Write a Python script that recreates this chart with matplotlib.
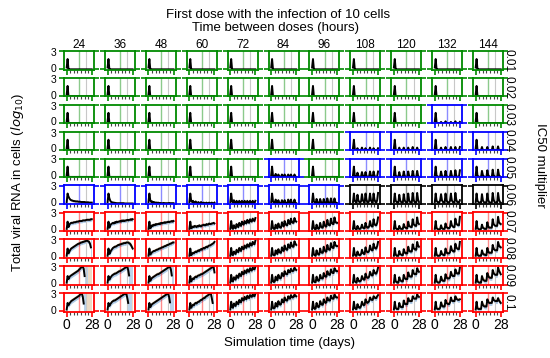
"""Viral RNA per IC50 multiplier and dosing interval (first dose with infection)"""

import numpy as np
import matplotlib.pyplot as plt

plt.rcParams['font.family'] = ['Liberation Sans', 'DejaVu Sans']

# Grid categories
intervals = [24, 36, 48, 60, 72, 84, 96, 108, 120, 132, 144]      # hours between doses
ic50 = ['0.01', '0.02', '0.03', '0.04', '0.05', '0.06', '0.07', '0.08', '0.09', '0.1']
days = np.arange(29)                                               # simulation day 0..28

# Outcome class of every cell (g = cleared, b = suppressed, k = oscillating, r = growing)
status = ['ggggggggggg',
          'ggggggggggg',
          'gggggggggbg',
          'gggggggbbbb',
          'gggggbgbbbb',
          'bbbbbbbkkkk',
          'rrrrrrrrrrr',
          'rrrrrrrrrrr',
          'rrrrrrrrrrr',
          'rrrrrrrrrrr']

# Median total viral RNA (log10), one value per day; None = all cells dead
spike = [0.3, 1.7] + [0] * 27

rna_001 = [spike] * 11
rna_002 = [spike] * 11
rna_003 = [spike] * 9 + [
    [0.3, 1.7, 0.1, 0, 0, 0, 0, 0.2, 0, 0, 0, 0, 0.3, 0, 0, 0, 0, 0, 0.2, 0, 0, 0, 0, 0.3, 0, 0, 0, 0, 0.2],
    spike]
rna_004 = [spike] * 7 + [
    [0.3, 1.7, 0.1, 0, 0, 0.3, 0, 0, 0, 0, 0.4, 0, 0, 0, 0.3, 0, 0, 0, 0, 0.4, 0, 0, 0, 0.3, 0, 0, 0, 0, 0.3],
    [0.3, 1.7, 0.1, 0, 0, 0, 0.4, 0, 0, 0, 0, 0.4, 0, 0, 0, 0, 0.4, 0, 0, 0, 0, 0.5, 0, 0, 0, 0, 0.4, 0, 0],
    [0.3, 1.7, 0.1, 0, 0, 0, 0, 0.4, 0, 0, 0, 0, 0.5, 0, 0, 0, 0, 0, 0.5, 0, 0, 0, 0, 0.5, 0, 0, 0, 0, 0.5],
    [0.3, 1.7, 0.1, 0, 0, 0, 0, 0.5, 0, 0, 0, 0, 0, 0.5, 0, 0, 0, 0, 0, 0.6, 0, 0, 0, 0, 0, 0.6, 0, 0, 0]]
rna_005 = [spike] * 5 + [
    [0.3, 1.7, 0.2, 0.1, 0.1, 0.5, 0.1, 0, 0.4, 0.1, 0, 0, 0.4, 0.1, 0, 0.4, 0.1, 0, 0, 0.4, 0.1, 0, 0.4, 0.1, 0, 0, 0.4, 0.1, 0],
    spike,
    [0.3, 1.7, 0.2, 0.1, 0, 0.7, 0.2, 0, 0, 0.1, 0.8, 0.2, 0, 0, 0.8, 0.2, 0, 0, 0.1, 0.9, 0.2, 0, 0, 0.9, 0.2, 0, 0, 0.1, 0.9],
    [0.3, 1.7, 0.2, 0.1, 0, 0, 0.8, 0.2, 0, 0, 0, 0.9, 0.2, 0, 0, 0, 0.9, 0.2, 0, 0, 0, 1.0, 0.2, 0, 0, 0, 1.0, 0.2, 0],
    [0.3, 1.7, 0.2, 0.1, 0, 0, 0.1, 0.9, 0.2, 0, 0, 0, 1.0, 0.2, 0, 0, 0, 0.1, 1.0, 0.2, 0, 0, 0, 1.1, 0.2, 0, 0, 0, 1.1],
    [0.3, 1.7, 0.2, 0.1, 0, 0, 0, 1.0, 0.3, 0.1, 0, 0, 0, 1.1, 0.3, 0.1, 0, 0, 0, 1.2, 0.3, 0.1, 0, 0, 0, 1.2, 0.3, 0.1, 0]]
rna_006 = [
    [0.3, 1.7, 1.2, 0.9, 0.7, 0.6, 0.55, 0.5, 0.45, 0.45, 0.4, 0.4, 0.4, 0.35, 0.35, 0.35, 0.3, 0.3, 0.3, 0.3, 0.3, 0.25, 0.25, 0.25, 0.25, 0.2, 0.2, 0.2, 0.2],
    [0.3, 1.7, 0.9, 0.5, 0.3, 0.25, 0.2, 0.2, 0.15, 0.15, 0.1, 0.1, 0.1, 0.1, 0.1, 0.1, 0.1, 0.1, 0.1, 0.05, 0.05, 0.05, 0.05, 0.05, 0.05, 0.05, 0.05, 0.05, 0.05],
    [0.3, 1.7, 0.6, 0.3, 0.4, 0.2, 0.3, 0.2, 0.2, 0.2, 0.15, 0.2, 0.1, 0.15, 0.1, 0.1, 0.1, 0.15, 0.1, 0.1, 0.1, 0.1, 0.1, 0.15, 0.1, 0.1, 0.1, 0.1, 0.1],
    [0.3, 1.7, 0.5, 0.3, 0.5, 0.2, 0.2, 0.4, 0.2, 0.1, 0.3, 0.1, 0.1, 0.3, 0.1, 0.1, 0.2, 0.1, 0.1, 0.2, 0.1, 0.1, 0.2, 0.1, 0.1, 0.2, 0.1, 0.1, 0.2],
    [0.3, 1.7, 0.4, 0.2, 0.6, 0.2, 0.1, 0.5, 0.2, 0.1, 0.5, 0.2, 0.1, 0.5, 0.2, 0.1, 0.5, 0.2, 0.1, 0.5, 0.2, 0.1, 0.5, 0.2, 0.1, 0.5, 0.2, 0.1, 0.5],
    [0.3, 1.7, 0.4, 0.2, 0.1, 0.7, 0.2, 0.1, 0.6, 0.2, 0.1, 0.1, 0.6, 0.2, 0.1, 0.6, 0.2, 0.1, 0.1, 0.7, 0.2, 0.1, 0.7, 0.2, 0.1, 0.1, 0.7, 0.2, 0.1],
    [0.3, 1.7, 0.4, 0.2, 0.1, 0.8, 0.3, 0.1, 0.1, 0.8, 0.3, 0.1, 0.1, 0.8, 0.3, 0.1, 0.1, 0.9, 0.3, 0.1, 0.1, 0.9, 0.3, 0.1, 0.1, 0.9, 0.3, 0.1, 0.1],
    [0.3, 1.7, 0.5, 0.3, 0.2, 1.5, 0.6, 0.3, 0.2, 0.4, 1.6, 0.6, 0.3, 0.2, 1.7, 0.7, 0.3, 0.2, 0.5, 1.7, 0.6, 0.3, 0.2, 1.7, 0.7, 0.3, 0.2, 0.6, 1.8],
    [0.3, 1.7, 0.5, 0.3, 0.2, 0.2, 1.5, 0.6, 0.3, 0.2, 0.2, 1.6, 0.6, 0.3, 0.2, 0.2, 1.7, 0.6, 0.3, 0.2, 0.2, 1.8, 0.7, 0.3, 0.2, 0.2, 1.8, 0.7, 0.3],
    [0.3, 1.7, 0.5, 0.3, 0.2, 0.2, 0.6, 1.6, 0.6, 0.3, 0.2, 0.2, 1.7, 0.6, 0.3, 0.2, 0.2, 0.5, 1.7, 0.6, 0.3, 0.2, 0.2, 1.8, 0.7, 0.3, 0.2, 0.2, 0.6],
    [0.3, 1.7, 0.5, 0.3, 0.2, 0.2, 0.2, 1.6, 0.6, 0.3, 0.2, 0.2, 0.2, 1.7, 0.6, 0.3, 0.2, 0.2, 0.2, 1.8, 0.7, 0.3, 0.2, 0.2, 0.2, 1.8, 0.7, 0.3, 0.2]]
rna_007 = [
    [0.3, 1.5, 0.6, 1.0, 1.2, 1.3, 1.3, 1.3, 1.4, 1.4, 1.4, 1.5, 1.5, 1.5, 1.6, 1.6, 1.6, 1.6, 1.7, 1.7, 1.7, 1.7, 1.8, 1.8, 1.8, 1.8, 1.8, 1.9, 1.9],
    [0.3, 1.5, 0.5, 0.9, 1.1, 1.2, 1.3, 1.2, 1.4, 1.3, 1.5, 1.4, 1.5, 1.5, 1.6, 1.5, 1.7, 1.6, 1.7, 1.6, 1.7, 1.7, 1.8, 1.7, 1.8, 1.8, 1.9, 1.8, 1.9],
    [0.3, 1.5, 0.4, 0.6, 0.9, 0.8, 1.0, 0.9, 1.1, 1.0, 1.1, 1.1, 1.2, 1.1, 1.3, 1.2, 1.3, 1.3, 1.4, 1.3, 1.4, 1.4, 1.5, 1.4, 1.5, 1.5, 1.6, 1.5, 1.6],
    [0.3, 1.5, 0.4, 0.5, 0.7, 0.6, 0.8, 0.7, 0.6, 0.8, 0.7, 0.9, 0.8, 0.7, 0.9, 0.9, 1.0, 0.9, 0.9, 1.1, 1.0, 1.0, 1.2, 1.1, 1.1, 1.2, 1.2, 1.3, 1.2],
    [0.3, 1.6, 0.5, 0.3, 0.9, 0.5, 0.4, 1.1, 0.7, 0.6, 1.3, 0.9, 0.8, 1.5, 1.1, 1.0, 1.6, 1.3, 1.2, 1.8, 1.4, 1.3, 1.9, 1.6, 1.5, 2.0, 1.7, 1.6, 2.1],
    [0.3, 1.6, 0.5, 0.3, 0.3, 1.0, 0.5, 0.4, 1.2, 0.7, 0.5, 0.5, 1.4, 0.9, 0.7, 1.6, 1.1, 0.9, 0.9, 1.8, 1.3, 1.1, 2.0, 1.5, 1.3, 1.3, 2.1, 1.6, 1.5],
    [0.3, 1.6, 0.5, 0.3, 0.2, 1.0, 0.5, 0.3, 0.4, 1.3, 0.7, 0.5, 0.5, 1.5, 0.9, 0.7, 0.7, 1.8, 1.1, 0.9, 0.9, 2.0, 1.3, 1.1, 1.1, 2.2, 1.5, 1.3, 1.3],
    [0.3, 1.6, 0.4, 0.3, 0.2, 0.8, 0.4, 0.3, 0.3, 0.5, 1.0, 0.5, 0.4, 0.4, 1.3, 0.7, 0.5, 0.5, 0.7, 1.6, 0.9, 0.7, 0.7, 1.9, 1.1, 0.9, 0.9, 1.3, 2.2],
    [0.3, 1.6, 0.4, 0.3, 0.2, 0.2, 0.8, 0.4, 0.3, 0.3, 0.3, 1.1, 0.6, 0.5, 0.4, 0.4, 1.5, 0.8, 0.7, 0.6, 0.6, 1.9, 1.1, 0.9, 0.8, 0.8, 2.2, 1.3, 1.1],
    [0.3, 1.6, 0.4, 0.3, 0.2, 0.2, 0.3, 0.9, 0.4, 0.3, 0.3, 0.3, 1.2, 0.6, 0.5, 0.4, 0.4, 0.6, 1.6, 0.9, 0.7, 0.6, 0.6, 2.0, 1.2, 1.0, 0.9, 0.9, 2.3],
    [0.3, 1.6, 0.4, 0.3, 0.2, 0.2, 0.3, 1.0, 0.5, 0.4, 0.3, 0.3, 0.3, 1.4, 0.7, 0.5, 0.5, 0.5, 0.5, 1.9, 1.1, 0.9, 0.8, 0.8, 0.8, 2.3, 1.4, 1.2, 1.1]]
rna_008 = [
    [0.3, 1.5, 0.7, 1.0, 1.3, 1.5, 1.6, 1.7, 1.8, 1.9, 2.0, 2.1, 2.2, 2.3, 2.3, 2.4, 2.5, 2.5, 2.6, 2.6, 2.7, 2.7, 2.8, 2.8, 2.7, 2.6, 2.3, 1.7, None],
    [0.3, 1.5, 0.6, 0.9, 1.2, 1.4, 1.6, 1.7, 1.8, 1.8, 1.9, 2.0, 2.1, 2.1, 2.2, 2.2, 2.3, 2.3, 2.4, 2.4, 2.4, 2.5, 2.5, 2.5, 2.4, 2.3, 2.1, 1.8, 1.5],
    [0.3, 1.5, 0.5, 0.7, 0.9, 1.0, 1.1, 1.1, 1.2, 1.3, 1.3, 1.4, 1.5, 1.5, 1.6, 1.7, 1.7, 1.8, 1.9, 1.9, 2.0, 2.1, 2.1, 2.2, 2.3, 2.3, 2.4, 2.5, 2.5],
    [0.3, 1.5, 0.4, 0.6, 0.8, 0.7, 0.9, 1.0, 0.9, 1.1, 1.2, 1.1, 1.3, 1.4, 1.3, 1.5, 1.6, 1.5, 1.7, 1.8, 1.7, 1.9, 2.0, 2.0, 2.1, 2.2, 2.3, 2.4, 2.6],
    [0.3, 1.6, 0.5, 0.4, 1.0, 0.7, 0.6, 1.3, 1.0, 0.9, 1.6, 1.2, 1.1, 1.8, 1.5, 1.4, 2.0, 1.7, 1.6, 2.2, 1.9, 1.8, 2.4, 2.1, 2.0, 2.6, 2.3, 2.2, 2.8],
    [0.3, 1.6, 0.5, 0.4, 0.4, 1.2, 0.7, 0.6, 1.4, 1.0, 0.8, 0.8, 1.7, 1.2, 1.1, 2.0, 1.5, 1.3, 1.3, 2.2, 1.8, 1.6, 2.5, 2.0, 1.8, 1.8, 2.7, 2.3, 2.1],
    [0.3, 1.6, 0.5, 0.4, 0.3, 1.2, 0.7, 0.5, 0.5, 1.5, 0.9, 0.8, 0.8, 1.8, 1.2, 1.0, 1.0, 2.1, 1.5, 1.3, 1.3, 2.4, 1.8, 1.6, 1.6, 2.6, 2.1, 1.9, 1.9],
    [0.3, 1.6, 0.5, 0.3, 0.3, 1.0, 0.6, 0.4, 0.4, 0.6, 1.3, 0.8, 0.6, 0.6, 1.7, 1.1, 0.9, 0.9, 1.1, 2.0, 1.4, 1.2, 1.2, 2.3, 1.7, 1.5, 1.5, 1.9, 2.6],
    [0.3, 1.6, 0.5, 0.3, 0.3, 0.3, 1.1, 0.6, 0.5, 0.4, 0.4, 1.4, 0.9, 0.7, 0.7, 0.7, 1.8, 1.2, 1.0, 1.0, 1.0, 2.2, 1.6, 1.4, 1.3, 1.3, 2.6, 2.0, 1.8],
    [0.3, 1.6, 0.5, 0.3, 0.3, 0.3, 0.4, 1.1, 0.6, 0.5, 0.4, 0.4, 1.5, 0.9, 0.7, 0.7, 0.7, 0.9, 1.9, 1.3, 1.1, 1.0, 1.0, 2.3, 1.7, 1.5, 1.4, 1.4, 2.6],
    [0.3, 1.6, 0.5, 0.3, 0.3, 0.3, 0.3, 1.2, 0.7, 0.5, 0.5, 0.4, 0.4, 1.6, 1.0, 0.8, 0.8, 0.8, 0.8, 2.1, 1.5, 1.3, 1.2, 1.2, 1.2, 2.6, 2.0, 1.8, 1.7]]
rna_009 = [
    [0.3, 1.4, 0.9, 1.2, 1.4, 1.5, 1.6, 1.7, 1.8, 1.9, 2.0, 2.1, 2.2, 2.3, 2.5, 2.6, 2.8, 2.9, 3.0, 2.6, 1.4] + [None] * 8,
    [0.3, 1.4, 0.8, 1.1, 1.3, 1.5, 1.6, 1.7, 1.8, 1.8, 1.9, 2.0, 2.1, 2.2, 2.2, 2.3, 2.4, 2.5, 2.6, 2.7, 2.8, 2.9, 3.0, 2.4, 1.5] + [None] * 4,
    [0.3, 1.4, 0.6, 0.9, 1.1, 1.2, 1.3, 1.4, 1.5, 1.6, 1.7, 1.7, 1.8, 1.9, 2.0, 2.1, 2.2, 2.3, 2.4, 2.5, 2.6, 2.7, 2.8, 2.9, 3.0, 2.5, 1.5] + [None] * 2,
    [0.3, 1.4, 0.5, 0.8, 1.0, 0.9, 1.2, 1.3, 1.2, 1.4, 1.5, 1.5, 1.6, 1.7, 1.7, 1.8, 1.9, 2.0, 2.1, 2.2, 2.3, 2.4, 2.5, 2.6, 2.7, 2.8, 2.9, 3.0, 2.0],
    [0.3, 1.6, 0.6, 0.5, 1.2, 0.9, 0.8, 1.5, 1.2, 1.1, 1.8, 1.5, 1.4, 2.1, 1.8, 1.7, 2.3, 2.0, 1.9, 2.5, 2.2, 2.1, 2.7, 2.4, 2.3, 2.8, 2.6, 2.5, 2.9],
    [0.3, 1.6, 0.6, 0.4, 0.5, 1.3, 0.8, 0.7, 1.6, 1.2, 1.0, 1.1, 1.9, 1.5, 1.4, 2.2, 1.8, 1.7, 1.7, 2.4, 2.1, 2.0, 2.6, 2.3, 2.2, 2.3, 2.8, 2.5, 2.4],
    [0.3, 1.6, 0.5, 0.4, 0.4, 1.3, 0.8, 0.6, 0.7, 1.6, 1.1, 1.0, 1.0, 1.9, 1.4, 1.3, 1.3, 2.2, 1.8, 1.6, 1.6, 2.5, 2.1, 1.9, 1.9, 2.7, 2.4, 2.2, 2.2],
    [0.3, 1.6, 0.5, 0.4, 0.3, 1.1, 0.7, 0.5, 0.5, 0.7, 1.4, 1.0, 0.8, 0.8, 1.8, 1.3, 1.1, 1.1, 1.3, 2.1, 1.7, 1.5, 1.5, 2.4, 2.0, 1.8, 1.8, 2.2, 2.8],
    [0.3, 1.6, 0.5, 0.4, 0.3, 0.3, 1.2, 0.7, 0.6, 0.5, 0.5, 1.6, 1.1, 0.9, 0.9, 0.9, 2.0, 1.5, 1.3, 1.3, 1.3, 2.4, 1.9, 1.7, 1.7, 1.7, 2.7, 2.3, 2.1],
    [0.3, 1.6, 0.5, 0.4, 0.3, 0.3, 0.5, 1.3, 0.8, 0.6, 0.6, 0.6, 1.7, 1.2, 1.0, 1.0, 1.0, 1.2, 2.1, 1.6, 1.4, 1.4, 1.4, 2.5, 2.0, 1.8, 1.8, 1.8, 2.8],
    [0.3, 1.6, 0.5, 0.4, 0.3, 0.3, 0.3, 1.4, 0.9, 0.7, 0.6, 0.6, 0.6, 1.9, 1.4, 1.2, 1.1, 1.1, 1.1, 2.4, 1.9, 1.7, 1.6, 1.6, 1.6, 2.8, 2.3, 2.0, 1.7]]
rna_010 = [
    [0.3, 1.4, 1.0, 1.3, 1.5, 1.7, 1.8, 1.9, 2.0, 2.1, 2.2, 2.3, 2.4, 2.5, 2.6, 2.8, 2.9, 3.0, 2.4, 1.3] + [None] * 9,
    [0.3, 1.4, 0.9, 1.2, 1.4, 1.6, 1.7, 1.8, 1.8, 1.9, 2.0, 2.1, 2.2, 2.3, 2.4, 2.5, 2.6, 2.7, 2.8, 2.9, 3.0, 2.9, 2.2, 1.4] + [None] * 5,
    [0.3, 1.4, 0.7, 1.0, 1.2, 1.3, 1.4, 1.5, 1.6, 1.7, 1.8, 1.9, 2.0, 2.1, 2.2, 2.3, 2.4, 2.5, 2.6, 2.7, 2.8, 2.9, 3.0, 2.4, 1.5] + [None] * 4,
    [0.3, 1.4, 0.6, 0.9, 1.1, 1.0, 1.3, 1.4, 1.3, 1.5, 1.6, 1.6, 1.8, 1.9, 1.9, 2.1, 2.2, 2.2, 2.4, 2.5, 2.6, 2.7, 2.8, 2.9, 3.0, 2.2, 1.4] + [None] * 2,
    [0.3, 1.6, 0.7, 0.6, 1.3, 1.0, 0.9, 1.6, 1.3, 1.2, 1.9, 1.6, 1.5, 2.2, 1.9, 1.8, 2.4, 2.1, 2.0, 2.6, 2.3, 2.2, 2.7, 2.5, 2.4, 2.8, 2.6, 2.5, 2.9],
    [0.3, 1.6, 0.6, 0.5, 0.6, 1.4, 0.9, 0.8, 1.7, 1.3, 1.1, 1.2, 2.0, 1.6, 1.5, 2.3, 1.9, 1.8, 1.8, 2.5, 2.2, 2.1, 2.7, 2.4, 2.3, 2.4, 2.8, 2.6, 2.5],
    [0.3, 1.6, 0.6, 0.4, 0.5, 1.4, 0.9, 0.7, 0.8, 1.7, 1.3, 1.1, 1.1, 2.0, 1.6, 1.4, 1.5, 2.3, 1.9, 1.8, 1.8, 2.6, 2.2, 2.1, 2.1, 2.8, 2.5, 2.3, 2.3],
    [0.3, 1.6, 0.6, 0.4, 0.4, 1.2, 0.8, 0.6, 0.6, 0.9, 1.6, 1.2, 1.0, 1.1, 2.0, 1.6, 1.4, 1.5, 1.7, 2.3, 2.0, 1.9, 1.9, 2.5, 2.3, 2.2, 2.2, 2.5, 2.7],
    [0.3, 1.6, 0.6, 0.4, 0.4, 0.4, 1.4, 0.9, 0.7, 0.7, 0.7, 1.8, 1.3, 1.2, 1.2, 1.2, 2.2, 1.8, 1.7, 1.7, 1.7, 2.5, 2.2, 2.1, 2.1, 2.1, 2.8, 2.5, 2.4],
    [0.3, 1.6, 0.5, 0.4, 0.4, 0.4, 0.6, 1.5, 1.0, 0.8, 0.8, 0.8, 1.9, 1.4, 1.3, 1.2, 1.2, 1.5, 2.3, 1.8, 1.7, 1.7, 1.7, 2.5, 2.1, 2.0, 1.9, 1.9, 2.0],
    [0.3, 1.6, 0.5, 0.4, 0.4, 0.4, 0.4, 1.6, 1.1, 0.9, 0.8, 0.8, 0.8, 2.0, 1.6, 1.4, 1.4, 1.4, 1.4, 2.3, 1.9, 1.8, 1.7, 1.7, 1.7, 2.2, 1.8, 1.6, 1.4]]

rna = [rna_001, rna_002, rna_003, rna_004, rna_005,
       rna_006, rna_007, rna_008, rna_009, rna_010]

# spread of the simulation replicates around the median (log10), per row
spread = [0.1, 0.1, 0.1, 0.12, 0.15, 0.2, 0.3, 0.35, 0.4, 0.4]

colours = {'g': '#008a00', 'b': '#0000ff', 'k': '#000000', 'r': '#ff0000'}
blue_band = '#8fb6de'
tan_band = '#dcb68a'

W, H = 550, 358
fig = plt.figure(figsize=(W / 100, H / 100), dpi=100)

for r in range(len(ic50)):
    for c in range(len(intervals)):
        col = colours[status[r][c]]
        left = 64 + 40.9 * c
        top = 51 + 26.9 * r
        ax = fig.add_axes([left / W, 1 - (top + 18.5) / H, 30 / W, 18.5 / H])

        y = np.array(rna[r][c], dtype=float)
        s = spread[r]
        lo = np.clip(y - s, 0, None)
        hi = y + s
        if status[r][c] == 'r':
            ax.fill_between(days, lo, y, color=blue_band, alpha=0.75, lw=0)
            ax.fill_between(days, y, hi, color=tan_band, alpha=0.75, lw=0)
            valid = np.where(~np.isnan(y))[0]
            end = valid[-1]
            if end < 28:
                ax.axvspan(end, min(end + 4, 28), ymax=0.95, color=blue_band, alpha=0.6, lw=0)
                ax.axvspan(min(end + 4, 28), 28, ymax=0.95, color=tan_band, alpha=0.5, lw=0)
        else:
            ax.fill_between(days, lo, hi, color='#b0b0b0', alpha=0.7, lw=0)
            if status[r][c] == 'b':
                ax.fill_between(days, y, hi, color=tan_band, alpha=0.5, lw=0)

        ax.axvline(14, color=col, alpha=0.45, lw=1)
        ax.axvline(22, color='#c8c8c8', lw=0.8)
        ax.plot(days, y, color='black', lw=1.4, zorder=3)

        ax.set_xlim(-3, 30.5)
        ax.set_ylim(-0.03, 3.03)
        for sp in ax.spines.values():
            sp.set_color(col)
            sp.set_linewidth(1.3)
            sp.set_zorder(5)

        ax.set_xticks([0, 28])
        ax.set_xticks(np.arange(4, 28, 4), minor=True)
        ax.set_yticks([0, 3])
        ax.set_yticklabels([])
        ax.tick_params(axis='y', left=True, right=True, length=3.5, width=1.2, color=col)
        ax.tick_params(axis='x', which='major', length=3.5, width=1.2, color=col,
                       labelsize=10, pad=1)
        ax.tick_params(axis='x', which='minor', length=2, width=0.8, color='#444444')
        if r != len(ic50) - 1:
            ax.set_xticklabels([])

        # y tick labels, nudged toward the box centre like the reference
        if c == 0:
            ax.annotate('3', xy=(0, 3), xycoords=('axes fraction', 'data'),
                        xytext=(-5.5, -1.2), textcoords='offset points',
                        ha='right', va='center', fontsize=7.5)
            ax.annotate('0', xy=(0, 0), xycoords=('axes fraction', 'data'),
                        xytext=(-5.5, 0.5), textcoords='offset points',
                        ha='right', va='center', fontsize=7.5)

        if r == 0:
            ax.set_title(str(intervals[c]), fontsize=8.5, pad=1.5)
        if c == len(intervals) - 1:
            ax.text(1.2, 0.5, ic50[r], transform=ax.transAxes, rotation=-90,
                    ha='center', va='center', fontsize=8.5)

fig.text(278 / W, 1 - 15 / H, 'First dose with the infection of 10 cells',
         ha='center', va='center', fontsize=9.5)
fig.text(275 / W, 1 - 28 / H, 'Time between doses (hours)',
         ha='center', va='center', fontsize=9.5)
fig.text(540 / W, 1 - 165 / H, 'IC50 multiplier', rotation=-90,
         ha='center', va='center', fontsize=9.5)
fig.text(18 / W, 1 - 182 / H, 'Total viral RNA in cells ($log_{10}$)', rotation=90,
         ha='center', va='center', fontsize=9.5)
fig.text(290 / W, 1 - 343 / H, 'Simulation time (days)',
         ha='center', va='center', fontsize=9.5)

fig.savefig('out.png', dpi=100)
